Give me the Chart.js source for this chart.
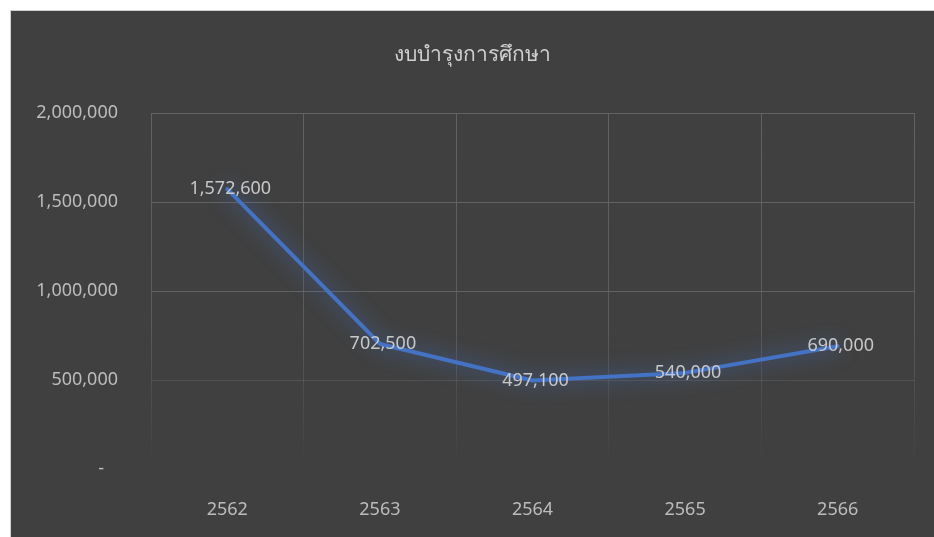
<!DOCTYPE html>
<html>
<head>
<meta charset="utf-8">
<script src="https://cdn.jsdelivr.net/npm/chart.js@4"></script>
<style>
html,body{margin:0;padding:0;background:#ffffff;width:934px;height:537px;overflow:hidden;}
#wrap{position:absolute;left:10px;top:10px;width:924px;height:527px;background:#404040;border-left:1px solid #d0d0d0;border-top:1px solid #d0d0d0;box-sizing:border-box;}
canvas{display:block;}
</style>
</head>
<body>
<div id="wrap"><canvas id="c"></canvas></div>
<script>
const titleText = 'งบบำรุงการศึกษา';
const categories = ['2562', '2563', '2564', '2565', '2566'];
const budgetValues = [1572600, 702500, 497100, 540000, 690000];
const yTicks = [0, 500000, 1000000, 1500000, 2000000];

const FONT = "'Noto Sans', 'DejaVu Sans', sans-serif";
const fmt = v => v.toLocaleString('en-US');

const glowPlugin = {
  id: 'glow',
  beforeDatasetDraw(chart) {
    const ctx = chart.ctx;
    ctx.save();
    ctx.shadowColor = 'rgba(68,114,196,1)';
    ctx.shadowBlur = 20;
  },
  afterDatasetDraw(chart) {
    chart.ctx.restore();
  }
};

const titlePlugin = {
  id: 'manualTitle',
  afterDraw(chart) {
    const ctx = chart.ctx;
    ctx.save();
    ctx.font = '21px ' + FONT;
    ctx.fillStyle = '#d0d0d0';
    ctx.textAlign = 'center';
    ctx.textBaseline = 'middle';
    ctx.fillText(titleText, chart.width / 2, 44);
    ctx.restore();
  }
};

const labelPlugin = {
  id: 'valueLabels',
  afterDatasetsDraw(chart) {
    const ctx = chart.ctx;
    const meta = chart.getDatasetMeta(0);
    ctx.save();
    ctx.font = '18px ' + FONT;
    ctx.fillStyle = '#c8c8c8';
    ctx.textAlign = 'center';
    ctx.textBaseline = 'middle';
    meta.data.forEach((pt, i) => {
      ctx.fillText(fmt(budgetValues[i]), pt.x + 3, pt.y);
    });
    ctx.restore();
  }
};

function vGrid(context) {
  const chart = context.chart;
  const area = chart.chartArea;
  if (!area) return '#575757';
  const g = chart.ctx.createLinearGradient(0, area.top, 0, area.bottom);
  g.addColorStop(0, 'rgba(100,100,100,0.95)');
  g.addColorStop(0.6, 'rgba(100,100,100,0.75)');
  g.addColorStop(1, 'rgba(100,100,100,0.0)');
  return g;
}
function hGrid(context) {
  const v = context.tick ? context.tick.value : null;
  if (v === 0) return 'rgba(100,100,100,0.05)';
  if (v === 500000) return 'rgba(100,100,100,0.5)';
  return 'rgba(100,100,100,0.95)';
}

new Chart(document.getElementById('c'), {
  type: 'line',
  data: {
    labels: categories,
    datasets: [{
      data: budgetValues,
      borderColor: '#4472C4',
      borderWidth: 4,
      borderCapStyle: 'round',
      borderJoinStyle: 'round',
      pointRadius: 0,
      tension: 0,
      fill: false
    }]
  },
  options: {
    responsive: true,
    maintainAspectRatio: false,
    animation: false,
    layout: { padding: { left: 0, right: 20, top: 102, bottom: 0 } },
    plugins: {
      legend: { display: false },
      tooltip: { enabled: false },
      title: { display: false }
    },
    scales: {
      x: {
        offset: true,
        afterFit(axis) { axis.height = 68; },
        grid: { color: vGrid, lineWidth: 1, drawTicks: false, offset: true },
        border: { display: false },
        ticks: { color: '#bcbcbc', font: { family: FONT, size: 18 }, padding: 30, maxRotation: 0 }
      },
      y: {
        min: 0,
        max: 2000000,
        afterBuildTicks(axis) { axis.ticks = yTicks.map(v => ({ value: v })); },
        afterFit(axis) { axis.width = 140; },
        grid: { color: hGrid, lineWidth: 1, drawTicks: false },
        border: { display: false },
        ticks: {
          color: '#bcbcbc',
          font: { family: FONT, size: 18 },
          padding: 33,
          callback: v => v === 0 ? '-   ' : fmt(v)
        }
      }
    }
  },
  plugins: [glowPlugin, labelPlugin, titlePlugin]
});
</script>
</body>
</html>
